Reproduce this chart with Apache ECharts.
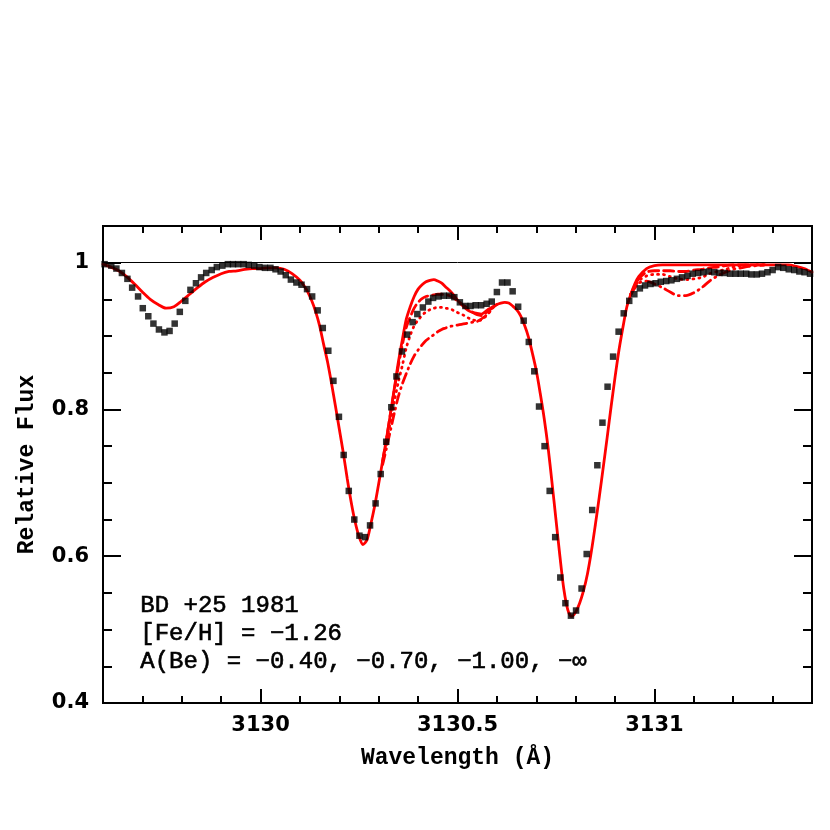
<!DOCTYPE html>
<html>
<head>
<meta charset="utf-8">
<script src="https://cdn.jsdelivr.net/npm/echarts@6/dist/echarts.min.js"></script>
<style>
html, body { margin: 0; padding: 0; background: #fff; }
#chart { width: 830px; height: 830px; }
</style>
</head>
<body>
<div id="chart"></div>
<script>

// observed spectrum (black squares)
const obsWave = [
    3129.604, 3129.621, 3129.634, 3129.648, 3129.662, 3129.674, 3129.689, 3129.701, 3129.715, 3129.728,
    3129.742, 3129.756, 3129.769, 3129.782, 3129.795, 3129.809, 3129.822, 3129.836, 3129.849, 3129.862,
    3129.876, 3129.889, 3129.903, 3129.917, 3129.930, 3129.943, 3129.957, 3129.970, 3129.984, 3129.997,
    3130.011, 3130.025, 3130.038, 3130.051, 3130.064, 3130.077, 3130.091, 3130.104, 3130.118, 3130.131,
    3130.145, 3130.158, 3130.172, 3130.185, 3130.199, 3130.211, 3130.224, 3130.238, 3130.251, 3130.265,
    3130.278, 3130.292, 3130.305, 3130.319, 3130.332, 3130.345, 3130.359, 3130.372, 3130.386, 3130.398,
    3130.412, 3130.426, 3130.438, 3130.452, 3130.465, 3130.479, 3130.492, 3130.506, 3130.520, 3130.533,
    3130.546, 3130.560, 3130.574, 3130.587, 3130.600, 3130.613, 3130.627, 3130.640, 3130.654, 3130.668,
    3130.681, 3130.695, 3130.707, 3130.721, 3130.734, 3130.748, 3130.761, 3130.774, 3130.788, 3130.801,
    3130.815, 3130.828, 3130.842, 3130.855, 3130.868, 3130.881, 3130.895, 3130.909, 3130.922, 3130.936,
    3130.949, 3130.963, 3130.976, 3130.990, 3131.003, 3131.016, 3131.030, 3131.043, 3131.057, 3131.070,
    3131.084, 3131.097, 3131.111, 3131.124, 3131.138, 3131.152, 3131.165, 3131.178, 3131.192, 3131.206,
    3131.219, 3131.233, 3131.246, 3131.260, 3131.273, 3131.287, 3131.300, 3131.314, 3131.327, 3131.341,
    3131.355, 3131.368, 3131.381, 3131.395
];
const obsFlux = [
    0.998, 0.996, 0.992, 0.986, 0.978, 0.966, 0.954, 0.938, 0.927, 0.917,
    0.909, 0.905, 0.907, 0.917, 0.933, 0.948, 0.963, 0.972, 0.980, 0.986,
    0.990, 0.994, 0.996, 0.998, 0.998, 0.998, 0.998, 0.997, 0.996, 0.994,
    0.993, 0.993, 0.991, 0.988, 0.983, 0.977, 0.973, 0.970, 0.964, 0.954,
    0.935, 0.911, 0.880, 0.839, 0.790, 0.738, 0.689, 0.650, 0.628, 0.626,
    0.642, 0.672, 0.712, 0.756, 0.803, 0.845, 0.879, 0.902, 0.919, 0.930,
    0.939, 0.947, 0.952, 0.954, 0.955, 0.955, 0.953, 0.946, 0.941, 0.941,
    0.942, 0.942, 0.944, 0.947, 0.960, 0.973, 0.973, 0.961, 0.940, 0.921,
    0.892, 0.852, 0.804, 0.750, 0.689, 0.626, 0.571, 0.536, 0.519, 0.526,
    0.556, 0.603, 0.663, 0.724, 0.782, 0.831, 0.872, 0.906, 0.931, 0.948,
    0.957, 0.965, 0.969, 0.971, 0.972, 0.974, 0.975, 0.976, 0.978, 0.980,
    0.982, 0.985, 0.986, 0.987, 0.988, 0.987, 0.986, 0.986, 0.985, 0.985,
    0.985, 0.985, 0.984, 0.984, 0.985, 0.987, 0.990, 0.994, 0.993, 0.991,
    0.990, 0.988, 0.987, 0.985
];

// synthetic spectrum, solid line (whole range)
const modelWave = [
    3129.60, 3129.62, 3129.64, 3129.66, 3129.68, 3129.70, 3129.72, 3129.74, 3129.76, 3129.78,
    3129.80, 3129.82, 3129.84, 3129.86, 3129.88, 3129.90, 3129.92, 3129.94, 3129.96, 3129.98,
    3130.00, 3130.02, 3130.04, 3130.06, 3130.08,
    3130.10, 3130.11, 3130.12, 3130.13, 3130.14, 3130.15, 3130.16, 3130.17, 3130.18, 3130.19,
    3130.20, 3130.21, 3130.22, 3130.23, 3130.24, 3130.25, 3130.26, 3130.27, 3130.28, 3130.29,
    3130.30, 3130.31, 3130.32, 3130.33, 3130.34, 3130.35, 3130.36, 3130.37, 3130.38, 3130.39,
    3130.40, 3130.41, 3130.42, 3130.43, 3130.44, 3130.45, 3130.46, 3130.47, 3130.48, 3130.49,
    3130.50, 3130.51, 3130.52, 3130.53, 3130.54, 3130.55, 3130.56, 3130.57, 3130.58, 3130.59,
    3130.60, 3130.61, 3130.62, 3130.63, 3130.64, 3130.65, 3130.66, 3130.67, 3130.68, 3130.69,
    3130.70, 3130.71, 3130.72, 3130.73, 3130.74, 3130.75, 3130.76, 3130.77, 3130.78, 3130.79,
    3130.80, 3130.81, 3130.82, 3130.83, 3130.84, 3130.85, 3130.86, 3130.87, 3130.88, 3130.89,
    3130.90, 3130.91, 3130.92, 3130.93, 3130.94, 3130.95, 3130.96,
    3130.98, 3131.00, 3131.02, 3131.04, 3131.06, 3131.08, 3131.10, 3131.12, 3131.14, 3131.16,
    3131.18, 3131.20, 3131.22, 3131.24, 3131.26, 3131.28, 3131.30, 3131.32, 3131.34, 3131.36,
    3131.38, 3131.40
];
const solidFlux = [
    0.998, 0.994, 0.989, 0.981, 0.971, 0.960, 0.950, 0.943, 0.938, 0.940,
    0.948, 0.957, 0.966, 0.974, 0.980, 0.985, 0.988, 0.989, 0.991, 0.992,
    0.992, 0.993, 0.993, 0.991, 0.985,
    0.976, 0.969, 0.960, 0.948, 0.933, 0.914, 0.889, 0.865, 0.836, 0.805,
    0.773, 0.741, 0.706, 0.674, 0.647, 0.627, 0.616, 0.622, 0.644, 0.669,
    0.699, 0.730, 0.761, 0.795, 0.830, 0.865, 0.895, 0.923, 0.940, 0.954,
    0.964, 0.970, 0.974, 0.976, 0.977, 0.975, 0.972, 0.967, 0.962, 0.956,
    0.949, 0.943, 0.938, 0.934, 0.932, 0.931, 0.930, 0.933, 0.937, 0.940,
    0.943, 0.945, 0.946, 0.945, 0.941, 0.936, 0.928, 0.915, 0.899, 0.877,
    0.853, 0.822, 0.788, 0.748, 0.700, 0.650, 0.600, 0.555, 0.527, 0.518,
    0.524, 0.536, 0.553, 0.576, 0.607, 0.643, 0.681, 0.721, 0.762, 0.804,
    0.844, 0.881, 0.912, 0.940, 0.957, 0.971, 0.981,
    0.992, 0.996, 0.997, 0.997, 0.997, 0.997, 0.997, 0.997, 0.997, 0.997,
    0.997, 0.997, 0.997, 0.997, 0.997, 0.997, 0.997, 0.997, 0.997, 0.995,
    0.992, 0.987
];

// the other Be abundances only differ around the Be II line and near 3131.1
const bumpWave = [
    3130.31, 3130.32, 3130.33, 3130.34, 3130.35, 3130.36, 3130.37, 3130.38, 3130.39, 3130.40,
    3130.41, 3130.42, 3130.43, 3130.44, 3130.45, 3130.46, 3130.47, 3130.48, 3130.49, 3130.50,
    3130.51, 3130.52, 3130.53, 3130.54, 3130.55, 3130.56, 3130.57, 3130.58, 3130.59, 3130.60
];
const dashedBump = [
    0.730, 0.761, 0.795, 0.828, 0.860, 0.888, 0.912, 0.926, 0.938, 0.946,
    0.951, 0.954, 0.955, 0.956, 0.957, 0.957, 0.956, 0.955, 0.952, 0.948,
    0.944, 0.940, 0.936, 0.932, 0.929, 0.928, 0.931, 0.935, 0.939, 0.943
];
const dottedBump = [
    0.728, 0.757, 0.784, 0.812, 0.838, 0.860, 0.884, 0.901, 0.914, 0.922,
    0.928, 0.933, 0.936, 0.938, 0.939, 0.939, 0.938, 0.937, 0.935, 0.932,
    0.930, 0.927, 0.924, 0.922, 0.921, 0.922, 0.926, 0.932, 0.939, 0.943
];
const dashdotBump = [
    0.725, 0.748, 0.772, 0.796, 0.818, 0.835, 0.849, 0.862, 0.873, 0.881,
    0.888, 0.894, 0.898, 0.902, 0.906, 0.909, 0.911, 0.913, 0.914, 0.915,
    0.916, 0.917, 0.918, 0.919, 0.920, 0.923, 0.927, 0.932, 0.939, 0.943
];

const tailWave = [
    3130.94, 3130.96, 3130.98, 3131.00, 3131.02, 3131.04, 3131.06, 3131.08, 3131.10, 3131.12,
    3131.14, 3131.16, 3131.18, 3131.20, 3131.22, 3131.24, 3131.26, 3131.28
];
const dashedTail = [
    0.957, 0.978, 0.987, 0.989, 0.989, 0.989, 0.988, 0.988, 0.990, 0.991,
    0.993, 0.994, 0.996, 0.997, 0.997, 0.997, 0.997, 0.997
];
const dottedTail = [
    0.957, 0.975, 0.982, 0.984, 0.984, 0.981, 0.978, 0.977, 0.978, 0.980,
    0.985, 0.988, 0.991, 0.994, 0.996, 0.997, 0.997, 0.997
];
const dashdotTail = [
    0.957, 0.972, 0.975, 0.971, 0.966, 0.960, 0.955, 0.955, 0.959, 0.966,
    0.975, 0.982, 0.987, 0.991, 0.993, 0.995, 0.996, 0.997
];

const xMajorTicks = [3130, 3130.5, 3131];
const noteLines = ['BD +25 1981', '[Fe/H] = \u22121.26', 'A(Be) = \u22120.40, \u22120.70, \u22121.00, \u2212\u221e'];

const red = '#ff0000';
const xMin = 3129.6, xMax = 3131.4;
const yMin = 0.4, yMax = 1.05;

function pairs(w, f) {
    return w.map((v, i) => [v, f[i]]);
}

function modelLine(data, dash) {
    return {
        type: 'line',
        data: data,
        showSymbol: false,
        smooth: 0.3,
        silent: true,
        z: 2,
        lineStyle: {color: red, width: 2.8, type: dash, cap: 'round'}
    };
}

const frameLine = {show: true, onZero: false, lineStyle: {color: '#000', width: 2}};

function xAx(pos, major) {
    let ax = {
        type: 'value', position: pos, min: xMin, max: xMax,
        splitLine: {show: false},
        axisLine: frameLine,
        axisLabel: {show: false}
    };
    if (major) {
        ax.axisTick = {show: true, inside: true, length: 14, customValues: xMajorTicks,
            lineStyle: {color: '#000', width: 2}};
    } else {
        ax.interval = 0.1;
        ax.axisTick = {show: true, inside: true, length: 7, lineStyle: {color: '#000', width: 2}};
    }
    return ax;
}

function yAx(pos, major) {
    let ax = {
        type: 'value', position: pos, min: yMin, max: yMax,
        splitLine: {show: false},
        axisLine: frameLine,
        axisLabel: {show: false}
    };
    if (major) {
        ax.interval = 0.2;
        ax.axisTick = {show: true, inside: true, length: 18, lineStyle: {color: '#000', width: 2}};
    } else {
        ax.interval = 0.05;
        ax.axisTick = {show: true, inside: true, length: 9, lineStyle: {color: '#000', width: 2}};
    }
    return ax;
}

let xBottom = xAx('bottom', true);
xBottom.axisLabel = {
    show: true, customValues: xMajorTicks, margin: 12,
    color: '#000', fontFamily: 'DejaVu Sans', fontWeight: 'bold', fontSize: 21,
    formatter: v => String(v)
};
xBottom.name = 'Wavelength (\u00c5)';
xBottom.nameLocation = 'middle';
xBottom.nameGap = 44;
xBottom.nameTextStyle = {color: '#000', fontFamily: 'Liberation Mono', fontWeight: 'bold', fontSize: 23};

let yLeft = yAx('left', true);
yLeft.axisLabel = {
    show: true, margin: 14, showMaxLabel: false,
    color: '#000', fontFamily: 'DejaVu Sans', fontWeight: 'bold', fontSize: 21,
    formatter: v => String(Math.round(v * 100) / 100)
};
yLeft.name = 'Relative Flux';
yLeft.nameLocation = 'middle';
yLeft.nameGap = 64;
yLeft.nameTextStyle = {color: '#000', fontFamily: 'Liberation Mono', fontWeight: 'bold', fontSize: 23};

let chart = echarts.init(document.getElementById('chart'), null, {renderer: 'canvas'});

let option = {
    backgroundColor: '#fff',
    animation: false,
    grid: {left: 103, top: 226, right: 18, bottom: 127, containLabel: false},
    xAxis: [xBottom, xAx('bottom', false), xAx('top', true), xAx('top', false)],
    yAxis: [yLeft, yAx('left', false), yAx('right', true), yAx('right', false)],
    graphic: [{
        type: 'text',
        left: 140,
        top: 592,
        silent: true,
        style: {
            text: noteLines.join('\n'),
            font: '24px "Liberation Mono"',
            lineHeight: 28,
            fill: '#000',
            stroke: '#000',
            lineWidth: 0.6
        }
    }],
    series: [
        modelLine(pairs(modelWave, solidFlux), 'solid'),
        modelLine(pairs(bumpWave, dashedBump), [10, 5]),
        modelLine(pairs(tailWave, dashedTail), [10, 5]),
        modelLine(pairs(bumpWave, dottedBump), [1, 5]),
        modelLine(pairs(tailWave, dottedTail), [1, 5]),
        modelLine(pairs(bumpWave, dashdotBump), [10, 5, 1, 5]),
        modelLine(pairs(tailWave, dashdotTail), [10, 5, 1, 5]),
        {
            type: 'scatter',
            data: pairs(obsWave, obsFlux),
            symbol: 'rect',
            symbolSize: 6.5,
            silent: true,
            z: 3,
            itemStyle: {color: '#000'},
            markLine: {
                silent: true,
                symbol: 'none',
                label: {show: false},
                lineStyle: {color: '#000', width: 1, type: 'solid'},
                data: [{yAxis: 1}]
            }
        }
    ]
};

chart.setOption(option);

</script>
</body>
</html>
